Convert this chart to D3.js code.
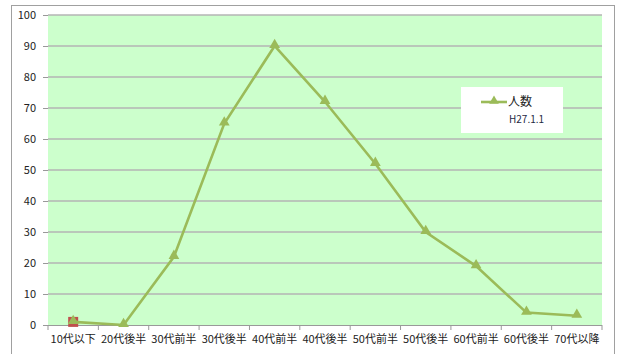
<!DOCTYPE html>
<html>
<head>
<meta charset="utf-8">
<script src="https://cdn.jsdelivr.net/npm/d3@7"></script>
<style>
  body { margin: 0; background: #fff; }
  text { font-family: "Noto Sans CJK JP", "DejaVu Sans", sans-serif; }
</style>
</head>
<body>
<svg width="619" height="354"></svg>
<script>
// data
var categories = ["10代以下", "20代後半", "30代前半", "30代後半", "40代前半", "40代後半",
                  "50代前半", "50代後半", "60代前半", "60代後半", "70代以降"];
var ninzu = [1, 0, 22, 65, 90, 72, 52, 30, 19, 4, 3];
var extraPoint = [1];          // red square at first category
var yTicks = [0, 10, 20, 30, 40, 50, 60, 70, 80, 90, 100];
var legendTitle = "人数";
var legendSub = "H27.1.1";

var margin = {top: 15, right: 17, bottom: 29, left: 48};
var width = 619 - margin.left - margin.right;
var height = 354 - margin.top - margin.bottom - 15 + 15;
height = 310;

var svg = d3.select("svg");

// outer frame
svg.append("rect")
  .attr("x", 11.5).attr("y", 5.5)
  .attr("width", 603).attr("height", 360)
  .attr("fill", "#fff")
  .attr("stroke", "#a0a0a0");

var main = svg.append("g")
  .attr("transform", "translate(" + margin.left + "," + margin.top + ")");

var x = d3.scaleBand().domain(categories).range([0, width]);
var y = d3.scaleLinear().domain([0, 100]).range([height, 0]);

main.append("rect")
  .attr("width", width).attr("height", height)
  .attr("fill", "#ccffcc");

// gridlines
main.selectAll(".grid")
  .data(yTicks.filter(function (d) { return d > 0; }))
  .enter().append("line")
  .attr("x1", 0).attr("x2", width)
  .attr("y1", function (d) { return y(d); })
  .attr("y2", function (d) { return y(d); })
  .attr("stroke", "#b4b4b4")
  .attr("stroke-width", 1.6);

// y axis
var yAxis = d3.axisLeft(y).tickValues(yTicks).tickSize(5).tickPadding(7);
var gy = main.append("g").call(yAxis);
gy.select(".domain").remove();
gy.selectAll(".tick line").attr("stroke", "#999");
gy.selectAll("text").attr("font-size", 11).attr("fill", "#222");

// x axis
var xAxis = d3.axisBottom(x).tickSize(0).tickPadding(10);
var gx = main.append("g")
  .attr("transform", "translate(0," + height + ")")
  .call(xAxis);
gx.select(".domain").attr("stroke", "#999").attr("d", "M-5,0.5H" + width);
gx.selectAll("text").attr("font-size", 11).attr("fill", "#222");
gx.selectAll(".sep")
  .data(d3.range(categories.length + 1))
  .enter().append("line")
  .attr("x1", function (i) { return i * x.bandwidth(); })
  .attr("x2", function (i) { return i * x.bandwidth(); })
  .attr("y1", 0).attr("y2", 5)
  .attr("stroke", "#999");

function cx(d, i) { return x(categories[i]) + x.bandwidth() / 2; }

// red square series
main.selectAll(".sq")
  .data(extraPoint)
  .enter().append("rect")
  .attr("x", function (d, i) { return cx(d, i) - 5; })
  .attr("y", function (d) { return y(d) - 5; })
  .attr("width", 10).attr("height", 10)
  .attr("fill", "#c0504d");

// line
var line = d3.line()
  .x(function (d, i) { return cx(d, i); })
  .y(function (d) { return y(d); });

main.append("path")
  .datum(ninzu)
  .attr("d", line)
  .attr("fill", "none")
  .attr("stroke", "#9bbb59")
  .attr("stroke-width", 2.6);

var tri = d3.symbol().type(d3.symbolTriangle).size(50);
main.selectAll(".tri")
  .data(ninzu)
  .enter().append("path")
  .attr("d", tri)
  .attr("transform", function (d, i) { return "translate(" + cx(d, i) + "," + (y(d) - 1) + ")"; })
  .attr("fill", "#9bbb59");

// legend
var lg = svg.append("g");
lg.append("rect")
  .attr("x", 461).attr("y", 87)
  .attr("width", 102).attr("height", 46)
  .attr("fill", "#fff");
lg.append("line")
  .attr("x1", 481).attr("x2", 507)
  .attr("y1", 102).attr("y2", 102)
  .attr("stroke", "#9bbb59").attr("stroke-width", 2.6);
lg.append("path")
  .attr("d", d3.symbol().type(d3.symbolTriangle).size(40))
  .attr("transform", "translate(494,101)")
  .attr("fill", "#9bbb59");
lg.append("text")
  .attr("x", 508).attr("y", 106)
  .attr("font-size", 12).attr("fill", "#222")
  .text(legendTitle);
lg.append("text")
  .attr("x", 509).attr("y", 123)
  .attr("font-size", 10).attr("fill", "#1f2a44")
  .attr("font-family", "Liberation Sans, sans-serif")
  .text(legendSub);
</script>
</body>
</html>
